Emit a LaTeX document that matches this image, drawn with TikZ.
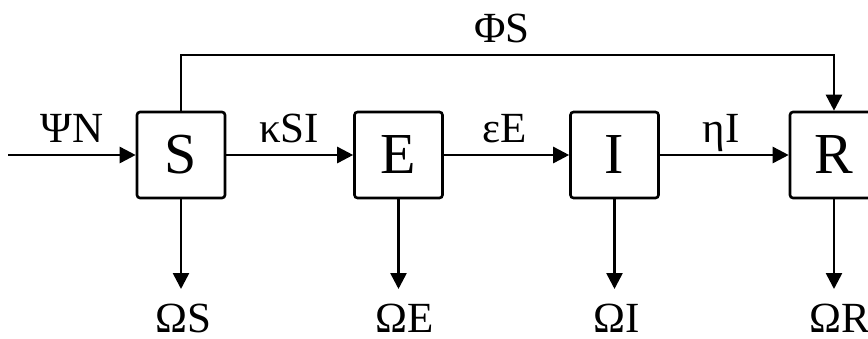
\documentclass[tikz,border=0pt]{standalone}
\usepackage{fontspec}
\setmainfont{Liberation Serif}
\usetikzlibrary{arrows.meta}
\begin{document}
\begin{tikzpicture}[x=1pt,y=-1pt,
  box/.style={draw,line width=2.6pt,rounded corners=3pt,minimum width=88pt,minimum height=86pt,inner sep=0pt,font=\fontsize{58}{60}\selectfont},
  lbl/.style={anchor=base,inner sep=0pt,font=\fontsize{43}{45}\selectfont},
  flow/.style={line width=2.6pt,-{Triangle[length=16pt,width=16pt]}},
  plain/.style={line width=2.6pt}]
\useasboundingbox (0,0) rectangle (868,338);
\fill[white] (0,0) rectangle (868,338);
\node[box] (S) at (181,155) {S};
\node[box] (E) at (398.5,155) {E};
\node[box] (I) at (614.5,155) {I};
\node[box] (R) at (834,155) {R};
\coordinate (in) at (8,155);
\coordinate (top) at (181,55);
\coordinate (dS) at (181,289);
\coordinate (dE) at (398.5,289);
\coordinate (dI) at (614.5,289);
\coordinate (dR) at (834,289);
\draw[flow] (in) -- (S);
\draw[flow] (S) -- (E);
\draw[flow] (E) -- (I);
\draw[flow] (I) -- (R);
\draw[flow] (S.north) |- (top) -| (R.north);
\draw[flow] (S) -- (dS);
\draw[flow] (E) -- (dE);
\draw[flow] (I) -- (dI);
\draw[flow] (R) -- (dR);
\node[lbl] (lpsi) at (72,142) {ΨN};
\node[lbl] (lkap) at (289,142) {κSI};
\node[lbl] (leps) at (505,142) {εE};
\node[lbl] (leta) at (721,142) {ηI};
\node[lbl] (lphi) at (502,42) {ΦS};
\node[lbl] (oS) at (183,332) {ΩS};
\node[lbl] (oE) at (405,332) {ΩE};
\node[lbl] (oI) at (617,332) {ΩI};
\node[lbl] (oR) at (840,332) {ΩR};
\end{tikzpicture}
\end{document}
